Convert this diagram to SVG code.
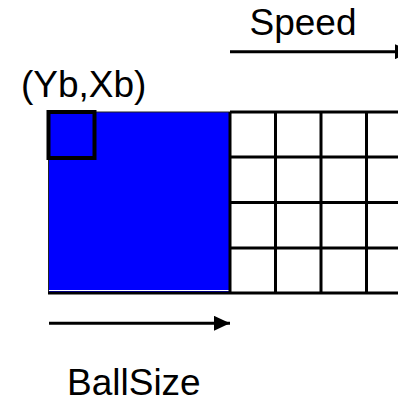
<svg xmlns="http://www.w3.org/2000/svg" width="398" height="403" viewBox="0 0 398 403">
<defs>
<style>
.lbl{font-family:"Liberation Sans",Arial,sans-serif;font-size:37px;fill:#000}
.grid{stroke:#000;stroke-width:3;fill:none}
.arr{stroke:#000;stroke-width:3;fill:none}
</style>
<marker id="ah" markerUnits="userSpaceOnUse" markerWidth="16" markerHeight="15" refX="16" refY="7.5" orient="auto" viewBox="0 0 16 15">
<path d="M0,0 L16,7.5 L0,15 z" fill="#000"/>
</marker>
</defs>
<rect width="398" height="403" fill="#fff"/>
<g id="field">
<rect x="48.5" y="112" width="181.5" height="181" fill="#0000ff" stroke="#222" stroke-width="1"/>
<line x1="49" y1="290.5" x2="229" y2="290.5" stroke="#fff" stroke-width="1"/>
<g class="grid">
<line x1="230" y1="112" x2="398" y2="112"/>
<line x1="230" y1="157" x2="398" y2="157"/>
<line x1="230" y1="202.5" x2="398" y2="202.5"/>
<line x1="230" y1="248" x2="398" y2="248"/>
<line x1="48" y1="293" x2="398" y2="293"/>
<line x1="230" y1="112" x2="230" y2="293"/>
<line x1="275.5" y1="112" x2="275.5" y2="293"/>
<line x1="321" y1="112" x2="321" y2="293"/>
<line x1="366.5" y1="112" x2="366.5" y2="293"/>
</g>
</g>
<g id="ball">
<rect x="48.5" y="112" width="46" height="46" fill="none" stroke="#000" stroke-width="4"/>
</g>
<g id="connectors">
<line class="arr" x1="230" y1="51.7" x2="411" y2="51.7" marker-end="url(#ah)"/>
<line class="arr" x1="49" y1="323.3" x2="230" y2="323.3" marker-end="url(#ah)"/>
</g>
<g id="labels">
<text class="lbl" x="249.5" y="35">Speed</text>
<text class="lbl" x="21" y="97">(Yb,Xb)</text>
<text class="lbl" x="67" y="395">BallSize</text>
</g>
</svg>
